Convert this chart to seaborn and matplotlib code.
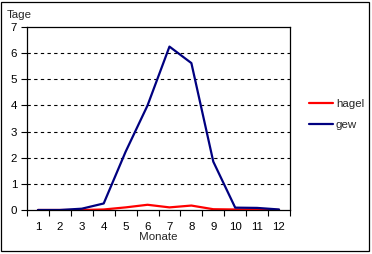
import matplotlib
matplotlib.use("Agg")
import matplotlib.pyplot as plt
import seaborn as sns
import pandas as pd
from matplotlib.patches import Rectangle

months = [1, 2, 3, 4, 5, 6, 7, 8, 9, 10, 11, 12]
hagel = [0, 0, 0, 0.02, 0.1, 0.2, 0.1, 0.17, 0.03, 0.02, 0.02, 0]
gew = [0, 0, 0.05, 0.25, 2.23, 4.0, 6.25, 5.62, 1.85, 0.09, 0.08, 0.02]
series_names = ["hagel", "gew"]
colors = {"hagel": "#FF0000", "gew": "#000080"}

df = pd.DataFrame({
    "Monat": months * 2,
    "Tage": hagel + gew,
    "Serie": ["hagel"] * 12 + ["gew"] * 12,
})

FS = 8.25
sns.set_style("white")
plt.rcParams["font.family"] = ["Liberation Sans", "DejaVu Sans"]
plt.rcParams["font.size"] = FS

fig = plt.figure(figsize=(3.72, 2.54), dpi=100)
ax = fig.add_axes([27 / 372, 44 / 254, 263 / 372, 183 / 254])

sns.lineplot(data=df, x="Monat", y="Tage", hue="Serie", hue_order=series_names,
             palette=colors, linewidth=1.6, ax=ax, legend=True)

ax.set_xlim(0.5, 12.5)
ax.set_ylim(0, 7)
ax.set_xticks(months)
ax.set_xticklabels([str(m) for m in months])
ax.set_xticks([m + 0.5 for m in [0] + months], minor=True)
ax.tick_params(axis="x", which="major", length=0, pad=8.5, labelsize=FS, colors="black")
ax.tick_params(axis="x", which="minor", length=4, width=0.8, direction="out", bottom=True, color="black")
ax.set_yticks(range(0, 8))
ax.tick_params(axis="y", which="major", length=4, width=0.8, direction="out", left=True, pad=3, labelsize=FS, colors="black")

for y in range(1, 7):
    ax.axhline(y, color="black", linestyle=(0, (3, 3)), linewidth=0.8, zorder=0)

for s in ax.spines.values():
    s.set_visible(True)
    s.set_color("black")
    s.set_linewidth(0.9)

ax.set_xlabel("Monate", fontsize=FS, labelpad=0.5)
ax.set_ylabel("")
fig.text(7 / 372, 1 - 15 / 254, "Tage", fontsize=FS, va="center", ha="left")

ax.get_legend().remove()
handles, labels = ax.get_legend_handles_labels()
leg = fig.legend(handles, labels, loc="upper left", bbox_to_anchor=(309 / 372, 1 - 99 / 254),
                 frameon=False, borderpad=0, borderaxespad=0,
                 handlelength=2.1, handletextpad=0.25, labelspacing=0.95, fontsize=FS)
for line in leg.get_lines():
    line.set_linewidth(1.6)

fig.patches.append(Rectangle((1 / 372, 3 / 254), 368 / 372, 249 / 254, transform=fig.transFigure,
                             fill=False, edgecolor="black", linewidth=0.9))

fig.savefig("out.png", dpi=100)
